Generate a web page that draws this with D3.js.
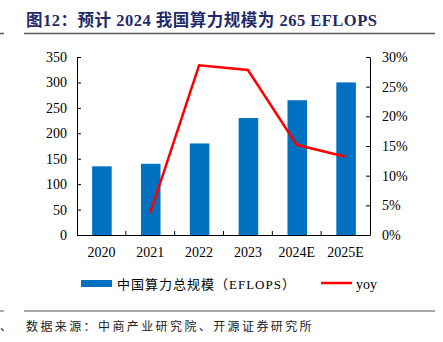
<!DOCTYPE html>
<html>
<head>
<meta charset="utf-8">
<script src="https://cdn.jsdelivr.net/npm/d3@7/dist/d3.min.js"></script>
<style>
  body { margin: 0; background: #fff; }
  svg { display: block; }
  .tick text { font-family: "Liberation Serif", "Times New Roman", serif; font-size: 14px; fill: #000; }
  .domain, .tick line { stroke: #000; }
</style>
</head>
<body>
<svg id="chart" width="443" height="342"></svg>
<script>
const years = ['2020', '2021', '2022', '2023', '2024E', '2025E'];
const compute = [135, 140, 180, 230, 265, 300];   // EFLOPS
const yoy = [null, 3.7, 28.6, 27.8, 15.2, 13.2];   // %
const leftTicks = [0, 50, 100, 150, 200, 250, 300, 350];
const rightTicks = [0, 5, 10, 15, 20, 25, 30];

const svg = d3.select('#chart');
const plotLeft = 77, plotRight = 370, plotTop = 57, plotBottom = 235;

const x = d3.scaleBand().domain(years).range([plotLeft, plotRight]).padding(0);
const y = d3.scaleLinear().domain([0, 350]).range([plotBottom, plotTop]);
const y2 = d3.scaleLinear().domain([0, 30]).range([plotBottom, plotTop]);

// title + rule
svg.append('text')
    .attr('x', 26).attr('y', 26)
    .attr('font-family', '"Liberation Serif", "Noto Sans CJK SC", serif')
    .attr('font-weight', 'bold')
    .attr('font-size', 16.5)
    .attr('letter-spacing', 0.5)
    .attr('fill', '#1f2a6b')
    .text('图12：预计 2024 我国算力规模为 265 EFLOPS');
svg.append('line').attr('x1', 24).attr('x2', 435).attr('y1', 33.5).attr('y2', 33.5)
    .attr('stroke', '#555').attr('stroke-width', 1.5);
svg.append('line').attr('x1', 0).attr('x2', 4).attr('y1', 33.5).attr('y2', 33.5)
    .attr('stroke', '#555').attr('stroke-width', 1.5);

// bars
const barW = x.bandwidth() * 0.4;
svg.append('g').selectAll('rect').data(years).join('rect')
    .attr('x', (d) => x(d) + x.bandwidth() / 2 - barW / 2 + 0.5)
    .attr('y', (d, i) => y(compute[i]))
    .attr('width', barW)
    .attr('height', (d, i) => plotBottom - y(compute[i]))
    .attr('fill', '#0070c0');

// axes, ticks pointing inward
svg.append('g').attr('transform', `translate(${plotLeft},0)`)
    .call(d3.axisLeft(y).tickValues(leftTicks).tickSizeInner(-4).tickSizeOuter(0).tickPadding(10));
svg.append('g').attr('transform', `translate(${plotRight},0)`)
    .call(d3.axisRight(y2).tickValues(rightTicks).tickSizeInner(-4).tickSizeOuter(0).tickPadding(12)
        .tickFormat((d) => d + '%'));
const axB = svg.append('g').attr('transform', `translate(0,${plotBottom})`)
    .call(d3.axisBottom(x).tickSize(0).tickPadding(12));
axB.selectAll('.tick text').attr('dy', '0.71em');

// category boundary ticks on the x axis
svg.append('g').selectAll('line').data(years.slice(1)).join('line')
    .attr('x1', (d) => x(d)).attr('x2', (d) => x(d))
    .attr('y1', plotBottom).attr('y2', plotBottom - 4)
    .attr('stroke', '#000');

// yoy line
const line = d3.line()
    .defined((d) => d !== null)
    .x((d, i) => x(years[i]) + x.bandwidth() / 2)
    .y((d) => y2(d));
svg.append('path').datum(yoy)
    .attr('d', line)
    .attr('fill', 'none')
    .attr('stroke', '#ff0000')
    .attr('stroke-width', 2.5)
    .attr('stroke-linejoin', 'miter');

// legend
const lg = svg.append('g');
lg.append('rect').attr('x', 81).attr('y', 280).attr('width', 31).attr('height', 7).attr('fill', '#0070c0');
lg.append('text').attr('x', 117).attr('y', 289)
    .attr('font-family', '"Liberation Serif", "Noto Sans CJK SC", serif')
    .attr('font-size', 13).attr('letter-spacing', 1)
    .text('中国算力总规模（EFLOPS）');
lg.append('line').attr('x1', 321).attr('x2', 352).attr('y1', 283).attr('y2', 283)
    .attr('stroke', '#ff0000').attr('stroke-width', 2.5);
lg.append('text').attr('x', 356).attr('y', 289)
    .attr('font-family', '"Liberation Serif", serif').attr('font-size', 14)
    .text('yoy');

// source note
svg.append('line').attr('x1', 24).attr('x2', 435).attr('y1', 311).attr('y2', 311)
    .attr('stroke', '#555').attr('stroke-width', 1);
svg.append('line').attr('x1', 0).attr('x2', 4).attr('y1', 311).attr('y2', 311)
    .attr('stroke', '#555').attr('stroke-width', 1);
svg.append('text').attr('x', 26).attr('y', 331)
    .attr('font-family', '"Noto Sans CJK SC", sans-serif')
    .attr('font-size', 12).attr('letter-spacing', 2.4).attr('fill', '#222')
    .text('数据来源：中商产业研究院、开源证券研究所');
svg.append('text').attr('x', 0).attr('y', 331)
    .attr('font-family', '"Noto Sans CJK SC", sans-serif')
    .attr('font-size', 12).attr('fill', '#222')
    .text('、');
</script>
</body>
</html>
